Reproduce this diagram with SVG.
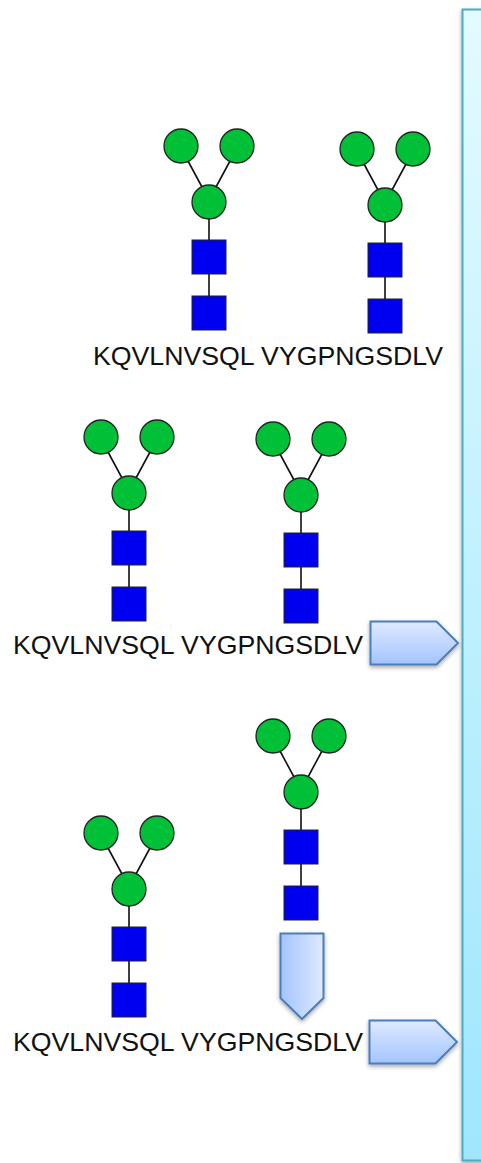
<svg xmlns="http://www.w3.org/2000/svg" width="481" height="1163" viewBox="0 0 481 1163">
<style>
.l{stroke:#111;stroke-width:1.6;fill:none}
.c{fill:#00c037;stroke:#222;stroke-width:1.3}
.s{fill:#0000f0;stroke:#222;stroke-width:1}
.t{font-family:"Liberation Sans",Arial,sans-serif;font-size:26.700px;fill:#111}
.a{stroke:#4a7ebb;stroke-width:2;filter:url(#sh)}
</style>
<defs>
<linearGradient id="gv" x1="0" y1="0" x2="0" y2="1"><stop offset="0" stop-color="#dfeaff"/><stop offset="1" stop-color="#a3c4ff"/></linearGradient>
<linearGradient id="gh" x1="0" y1="0" x2="1" y2="0"><stop offset="0" stop-color="#a3c4ff"/><stop offset="1" stop-color="#dfeaff"/></linearGradient>
<linearGradient id="gp" x1="0" y1="0" x2="0" y2="1"><stop offset="0" stop-color="#e2fbff"/><stop offset="1" stop-color="#9fe6fd"/></linearGradient>
<filter id="sh" x="-20%" y="-20%" width="140%" height="140%"><feDropShadow dx="0" dy="2" stdDeviation="2" flood-color="#000" flood-opacity="0.35"/></filter>
<g id="glycan-shape">
<circle class="c" cx="181" cy="146" r="17"/><circle class="c" cx="237" cy="146" r="17"/><circle class="c" cx="209" cy="202" r="17"/>
<rect class="s" x="192" y="240" width="34" height="34"/><rect class="s" x="192" y="296" width="34" height="34"/>
</g>
<g id="glycan-links">
<path class="l" d="M188 161L202 187M230 161L216 187M209 219V240M209 274V296"/>
</g>
</defs>
<g id="connectors">
<use href="#glycan-links"/>
<use href="#glycan-links" x="176" y="3"/>
<use href="#glycan-links" x="-80" y="291"/>
<use href="#glycan-links" x="92" y="293"/>
<use href="#glycan-links" x="-80" y="687"/>
<use href="#glycan-links" x="92" y="590"/>
</g>
<g id="panel"><rect x="462.500" y="9.500" width="30" height="1151" fill="url(#gp)" stroke="#4bacc6" stroke-width="2" filter="url(#sh)"/></g>
<g id="glycan1"><use href="#glycan-shape"/></g>
<g id="glycan2"><use href="#glycan-shape" x="176" y="3"/></g>
<g id="glycan3"><use href="#glycan-shape" x="-80" y="291"/></g>
<g id="glycan4"><use href="#glycan-shape" x="92" y="293"/></g>
<g id="glycan5"><use href="#glycan-shape" x="-80" y="687"/></g>
<g id="glycan6"><use href="#glycan-shape" x="92" y="590"/></g>
<g id="label1"><text class="t" x="93" y="364.500">KQVLNVSQL VYGPNGSDLV</text></g>
<g id="label2"><text class="t" x="13" y="653.500">KQVLNVSQL VYGPNGSDLV</text></g>
<g id="label3"><text class="t" x="13" y="1051">KQVLNVSQL VYGPNGSDLV</text></g>
<g id="arrow1"><path class="a" fill="url(#gv)" d="M370.500 621.500H436.500L458 643L436.500 664.500H370.500Z"/></g>
<g id="arrow2"><path class="a" fill="url(#gv)" d="M369.500 1020.500H435.500L457 1042L435.500 1063.500H369.500Z"/></g>
<g id="arrow3"><path class="a" fill="url(#gh)" d="M280.500 933.500H323.500V998L302 1019L280.500 998Z"/></g>
</svg>
